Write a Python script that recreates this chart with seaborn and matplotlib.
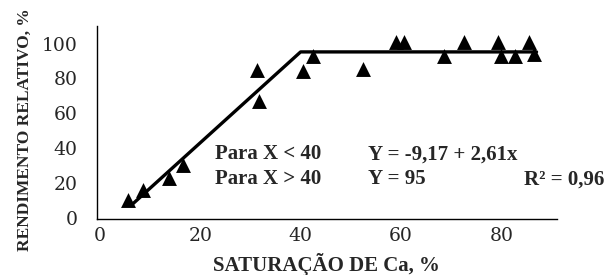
import matplotlib
matplotlib.use("Agg")
import matplotlib.pyplot as plt
import seaborn as sns
import numpy as np
import pandas as pd

# observed points (Ca saturation %, relative yield %)
sat_ca = [5.7, 8.7, 13.7, 16.5, 31.3, 31.7, 40.5, 42.5, 52.4, 59.0, 60.6,
          68.6, 72.6, 79.4, 80.0, 82.7, 85.5, 86.5]
rend_rel = [10, 16, 23, 30, 85, 67, 84, 93, 85.5, 101, 101,
            93, 101, 101, 93, 93, 101, 94]

# fitted broken-line model
fit_x = [6.3, 40.0, 87.0]
fit_y = [-9.17 + 2.61 * 6.3, 95.2, 95.2]

x_ticks = [0, 20, 40, 60, 80]
y_ticks = [0, 20, 40, 60, 80, 100]

df = pd.DataFrame({"sat": sat_ca, "rend": rend_rel})

sns.set_style("white")
plt.rcParams['font.family'] = ['Liberation Serif', 'DejaVu Serif']

fig = plt.figure(figsize=(6.05, 2.75), dpi=100)
ax = fig.add_axes([0.16, 0.205, 0.76, 0.70])

ax.plot(fit_x, fit_y, color='black', lw=2.4, zorder=2)
sns.scatterplot(data=df, x='sat', y='rend', marker='^', s=115, color='black',
                edgecolor='black', linewidth=0, ax=ax, zorder=3)

ax.set_xlim(-0.6, 91)
ax.set_ylim(-0.5, 110)
ax.set_xticks(x_ticks)
ax.set_yticks(y_ticks)
ax.set_xticks(np.arange(10, 91, 10), minor=True)
ax.set_yticks(np.arange(10, 101, 20), minor=True)
ax.tick_params(which='both', direction='in', length=4, width=0.8)
ax.tick_params(axis='x', pad=6)
ax.tick_params(axis='y', pad=14)
for lab in ax.get_xticklabels() + ax.get_yticklabels():
    lab.set_family(['DejaVu Serif'])
    lab.set_fontsize(13.5)

for s in ['top', 'right']:
    ax.spines[s].set_visible(False)
for s in ['left', 'bottom']:
    ax.spines[s].set_color('black')
    ax.spines[s].set_linewidth(1.0)

ax.set_xlabel('SATURAÇÃO DE Ca, %', fontsize=15, fontweight='bold', labelpad=6)
ax.set_ylabel('RENDIMENTO RELATIVO, %', fontsize=12.5, fontweight='bold')
ax.yaxis.set_label_coords(-0.14, 0.46)

tkw = dict(fontsize=15, fontweight='bold', va='center')
ax.text(23, 36.5, 'Para X < 40', **tkw)
ax.text(23, 22, 'Para X > 40', **tkw)
ax.text(53.4, 36.5, 'Y = -9,17 + 2,61x', **tkw)
ax.text(53.4, 22, 'Y = 95', **tkw)
ax.text(100.5, 22, 'R² = 0,96', ha='right', clip_on=False, **tkw)

fig.savefig('out.png', dpi=100)
